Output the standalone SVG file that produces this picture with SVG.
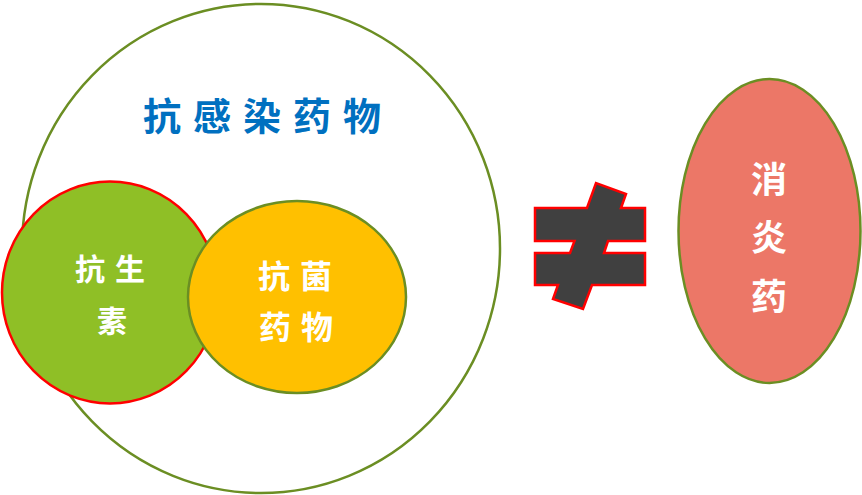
<svg xmlns="http://www.w3.org/2000/svg" width="862" height="495" viewBox="0 0 862 495">
<style>
.cn{font-family:"Noto Sans CJK SC","Noto Sans CJK TC",sans-serif;font-weight:bold;text-anchor:middle}
.w{fill:#FFFFFF}
</style>
<rect width="862" height="495" fill="#FFFFFF"/>
<g id="outer">
<ellipse cx="261" cy="248.5" rx="239" ry="244.5" fill="#FFFFFF" stroke="#6B8E23" stroke-width="2.5"/>
<text class="cn" x="268" y="130" font-size="38" fill="#0070C0" letter-spacing="12">抗感染药物</text>
</g>
<g id="antibiotic">
<ellipse cx="110" cy="292.5" rx="108" ry="111" fill="#8FBF26" stroke="#FF0000" stroke-width="2.5"/>
<text class="cn w" x="115" y="280" font-size="30" letter-spacing="10">抗生</text>
<text class="cn w" x="112" y="332" font-size="30">素</text>
</g>
<g id="antibacterial">
<ellipse cx="297" cy="297" rx="109" ry="96" fill="#FFC000" stroke="#6B8E23" stroke-width="2.5"/>
<text class="cn w" x="300" y="288" font-size="32" letter-spacing="10">抗菌</text>
<text class="cn w" x="301" y="339" font-size="32" letter-spacing="10">药物</text>
</g>
<g id="noteq">
<polygon points="535,208 587,208 596,183 626,194 621,208 645,208 645,241 608,241 604,253 645,253 645,285 592,285 583,309 553,299 558,285 535,285 535,253 570,253 574.5,241 535,241" fill="#404040" stroke="#FF0000" stroke-width="2.5" stroke-linejoin="miter"/>
</g>
<g id="antiinflammatory">
<ellipse cx="769.5" cy="231" rx="91" ry="152" fill="#EC7767" stroke="#6B8E23" stroke-width="2.5"/>
<text class="cn w" x="769" y="193" font-size="36">消</text>
<text class="cn w" x="769" y="251" font-size="36">炎</text>
<text class="cn w" x="769" y="310" font-size="36">药</text>
</g>
<g id="connectors"/>
</svg>
